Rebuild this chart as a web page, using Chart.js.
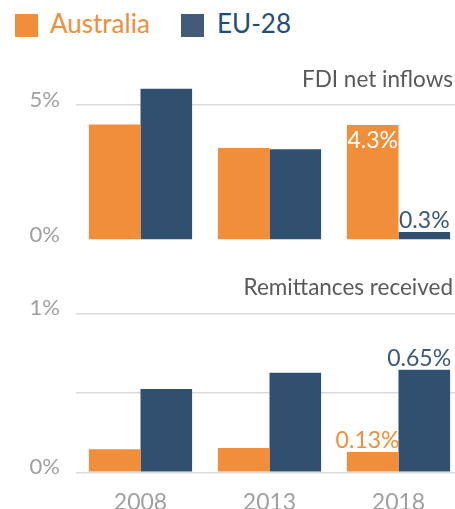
<!DOCTYPE html>
<html><head><meta charset="utf-8">
<script src="https://cdn.jsdelivr.net/npm/chart.js@4.4.0/dist/chart.umd.min.js"></script>
<style>
html,body{margin:0;padding:0;width:455px;height:509px;overflow:hidden;background:#fff;font-family:Lato,sans-serif}
.wrap{position:absolute;left:0;width:465px}
#w1{top:50px;height:205px}
#w2{top:255px;height:254px}
.sq{position:absolute;width:23px;height:23px;top:14px}
.lt{position:absolute;top:8px;font-size:26px;line-height:1.2;white-space:nowrap}
</style></head><body>
<div class="sq" style="left:15px;background:#F08E39"></div>
<div class="lt" id="lg1" style="left:50px;color:#F08E39"></div>
<div class="sq" style="left:181px;background:#425B78"></div>
<div class="lt" id="lg2" style="left:217px;color:#1F4E79"></div>
<div class="wrap" id="w1"><canvas id="c1"></canvas></div>
<div class="wrap" id="w2"><canvas id="c2"></canvas></div>
<script>
const categories = ['2008', '2013', '2018'];
const seriesNames = ['Australia', 'EU-28'];
const fdiAustralia = [4.28, 3.41, 4.26];
const fdiEU = [5.6, 3.36, 0.3];
const remAustralia = [0.145, 0.153, 0.127];
const remEU = [0.524, 0.626, 0.645];
const fdiTicks = [0, 5];
const fdiTickLabels = ['0%', '5%'];
const remTicks = [0, 0.5, 1];
const remTickLabels = ['0%', '', '1%'];
const fdiLabelsAustralia = [null, null, '4.3%'];
const fdiLabelsEU = [null, null, '0.3%'];
const remLabelsAustralia = [null, null, '0.13%'];
const remLabelsEU = [null, null, '0.65%'];
const panelTitles = ['FDI net inflows', 'Remittances received'];

const ORANGE = '#F08E39', BLUE = '#31506F';
document.getElementById('lg1').textContent = seriesNames[0];
document.getElementById('lg2').textContent = seriesNames[1];

const valueLabels = {
  id: 'valueLabels',
  afterDatasetsDraw(chart) {
    const ctx = chart.ctx;
    chart.data.datasets.forEach((ds, i) => {
      const meta = chart.getDatasetMeta(i);
      (ds.valueLabels || []).forEach((txt, j) => {
        if (!txt) return;
        const bar = meta.data[j];
        ctx.save();
        ctx.font = '23px Lato';
        const w = ctx.measureText(txt).width;
        const right = bar.x + bar.width / 2 + 1;
        let x = bar.x - w / 2;
        if (x + w > right) x = right - w;
        const y = ds.labelInside ? bar.y + 22.6 : bar.y - 4;
        ctx.fillStyle = ds.labelColor;
        ctx.textAlign = 'left';
        ctx.textBaseline = 'alphabetic';
        ctx.fillText(txt, x, y);
        ctx.restore();
      });
    });
  }
};

const panelTitle = {
  id: 'panelTitle',
  afterDraw(chart, args, opts) {
    const ctx = chart.ctx;
    ctx.save();
    ctx.font = '22.5px Lato';
    ctx.fillStyle = '#595959';
    ctx.textAlign = 'right';
    ctx.textBaseline = 'alphabetic';
    ctx.fillText(opts.text, opts.x, opts.y);
    ctx.restore();
  }
};

function zeroPad(s) { s.paddingTop = 0; s.paddingBottom = 0; s.paddingLeft = 0; s.paddingRight = 0; }

function makeChart(id, dataA, dataE, labA, labE, insideA, ticks, tickLabels, yMax, gridVals, title, titleY, showX, padTop, padBottom, xHeight) {
  return new Chart(document.getElementById(id), {
    type: 'bar',
    data: {
      labels: categories,
      datasets: [
        { label: seriesNames[0], data: dataA, backgroundColor: ORANGE, borderWidth: 0,
          categoryPercentage: 0.8, barPercentage: 1.0,
          valueLabels: labA, labelInside: insideA, labelColor: insideA ? '#ffffff' : ORANGE },
        { label: seriesNames[1], data: dataE, backgroundColor: BLUE, borderWidth: 0,
          categoryPercentage: 0.8, barPercentage: 1.0,
          valueLabels: labE, labelInside: false, labelColor: '#3A5878' }
      ]
    },
    options: {
      responsive: true,
      maintainAspectRatio: false,
      animation: false,
      layout: { padding: { top: padTop, bottom: padBottom, right: 2, left: 0 } },
      plugins: {
        legend: { display: false },
        tooltip: { enabled: false },
        panelTitle: { text: title, x: 453, y: titleY }
      },
      scales: {
        x: {
          display: showX,
          afterFit: s => { zeroPad(s); if (xHeight) s.height = xHeight; },
          grid: { display: false },
          border: { display: false },
          ticks: { padding: 8, color: '#A0A0A0', font: { family: 'Lato', size: 23 } }
        },
        y: {
          min: 0, max: yMax,
          afterBuildTicks: s => { s.ticks = ticks.map(v => ({ value: v })); },
          afterFit: s => { zeroPad(s); s.width = 76; },
          border: { display: false },
          grid: {
            drawTicks: false,
            lineWidth: 1.5,
            color: c => (c.tick && gridVals.includes(c.tick.value)) ? '#DADADA' : 'rgba(0,0,0,0)'
          },
          ticks: {
            padding: 16, labelOffset: -5, color: '#A0A0A0',
            font: { family: 'Lato', size: 22 },
            callback: v => tickLabels[ticks.indexOf(v)]
          }
        }
      }
    },
    plugins: [valueLabels, panelTitle]
  });
}

makeChart('c1', fdiAustralia, fdiEU, fdiLabelsAustralia, fdiLabelsEU, true,
  fdiTicks, fdiTickLabels, 6.5, [5], panelTitles[0], 37, false, 14.5, 15, 0);
makeChart('c2', remAustralia, remEU, remLabelsAustralia, remLabelsEU, false,
  remTicks, remTickLabels, 1.2, [0, 0.5, 1], panelTitles[1], 40, true, 26.5, 0, 36.7);
</script>
</body></html>
